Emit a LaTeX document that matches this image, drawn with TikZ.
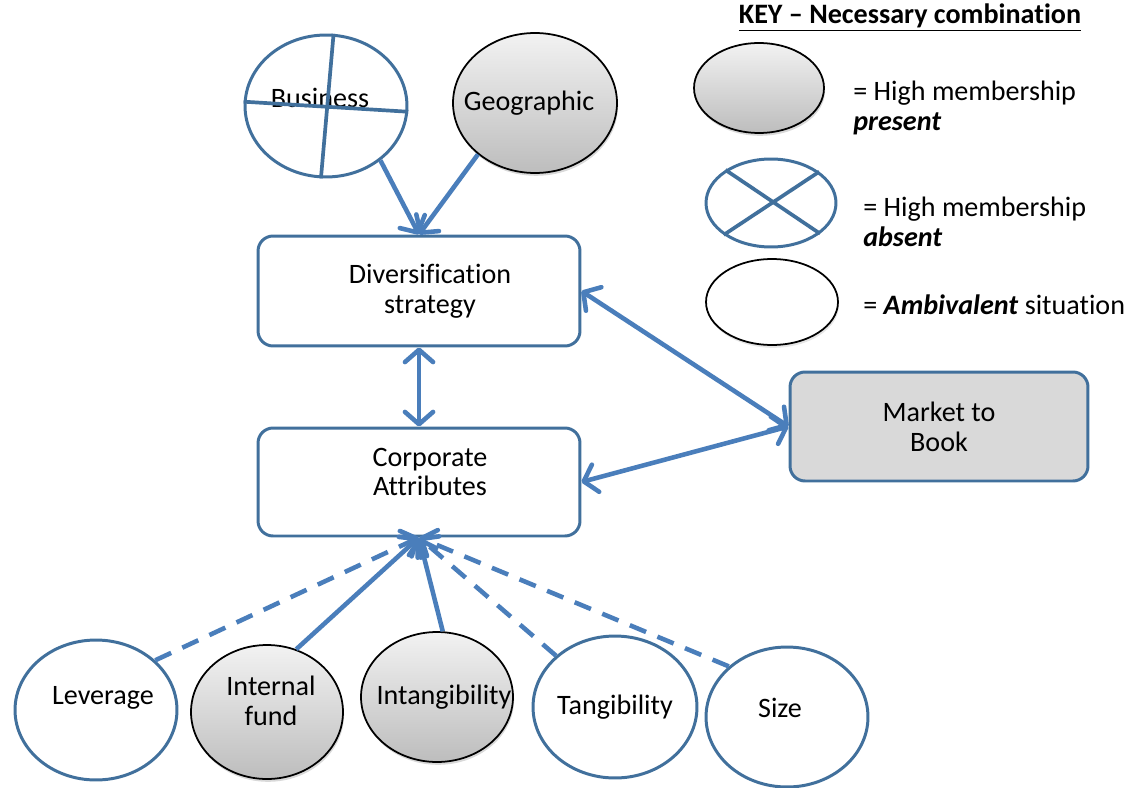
\documentclass[tikz,border=0pt]{standalone}
\usepackage{fontspec}
\setmainfont{Carlito}[Ligatures=CommonOff]
\usetikzlibrary{arrows.meta,shapes.geometric,shadows}

\definecolor{edgeblue}{HTML}{41709C}
\definecolor{arrowblue}{HTML}{4A7EBB}
\definecolor{mtbgray}{HTML}{D9D9D9}
\definecolor{shadetop}{HTML}{F2F2F2}
\definecolor{shadebot}{HTML}{BDBDBD}

\begin{document}
\begin{tikzpicture}[x=0.02cm,y=-0.02cm,
  every node/.style={font=\fontsize{16}{17}\selectfont},
  every label/.style={font=\fontsize{16}{17}\selectfont, align=center, inner sep=0pt},
  box/.style={draw=edgeblue, line width=1.7pt, rounded corners=0.3cm,
    minimum width=6.44cm, minimum height=2.2cm, align=center, fill=white},
  oval/.style={ellipse, inner sep=0pt},
  plainoval/.style={oval, draw=edgeblue, line width=1.7pt, fill=white},
  presentoval/.style={oval, draw=black, line width=1pt,
    top color=shadetop, bottom color=shadebot,
    drop shadow={opacity=0.3, shadow xshift=0.6pt, shadow yshift=-1.6pt}},
  crossline/.style={draw=edgeblue, line width=2.1pt},
  link/.style={draw=arrowblue, line width=2.6pt},
  barb/.tip={Straight Barb[length=7pt,width=16pt,round]},
  tipend/.style={-barb},
  tipboth/.style={barb-barb},
  dashlink/.style={link, dash pattern=on 10pt off 7pt},
  keytext/.style={anchor=west, align=left, inner sep=0pt}
]
\useasboundingbox (0,0) rectangle (1128,787);

% central boxes
\node[box, label={[xshift=0.22cm]center:Diversification\\strategy}] (div) at (419,291) {};
\node[box, minimum height=2.16cm,
      label={[xshift=0.22cm, yshift=0.2cm]center:Corporate\\Attributes}] (corp) at (419,482) {};
\node[box, fill=mtbgray, minimum width=5.96cm, minimum height=2.18cm] (mtb) at (939,426.5) {Market to\\Book};

% diversification types
\node[plainoval, minimum width=3.24cm, minimum height=2.84cm,
      label={[yshift=0.17cm, xshift=-0.12cm]center:Business}] (bus) at (326,106) {};
\draw[crossline] (bus.84) -- (bus.266);
\draw[crossline] (bus.177) -- (bus.356);
\node[presentoval, minimum width=3.28cm, minimum height=2.8cm,
      label={[xshift=-0.12cm]center:Geographic}] (geo) at (535,103) {};

% attribute conditions
\node[plainoval, minimum width=3.24cm, minimum height=2.8cm,
      label={[xshift=0.14cm, yshift=0.24cm]center:Leverage}] (lev) at (96,710) {};
\node[presentoval, minimum width=3.04cm, minimum height=2.68cm,
      label={[xshift=0.08cm, yshift=0.22cm]center:Internal\\fund}] (fund) at (267,712) {};
\node[presentoval, minimum width=3.04cm, minimum height=2.6cm,
      label={[xshift=0.14cm]center:Intangibility}] (intan) at (437,697) {};
\node[plainoval, minimum width=3.28cm, minimum height=2.84cm,
      label={center:Tangibility}] (tan) at (615,707) {};
\node[plainoval, minimum width=3.24cm, minimum height=2.8cm,
      label={[xshift=-0.14cm, yshift=0.18cm]center:Size}] (size) at (787,717) {};

% connectors
\draw[link, tipend] (bus.315) -- (div.north);
\draw[link, tipend] (geo.222) -- (div.north);
\draw[link, tipboth] (div.south) -- (corp.north);
\draw[link, tipboth] (div.east) -- (mtb.west);
\draw[link, tipboth] (mtb.west) -- (corp.east);
\draw[dashlink, tipend] (lev.40) -- (corp.south);
\draw[link, tipend] (fund.65) -- (corp.south);
\draw[link, tipend] (intan.85) -- (corp.south);
\draw[dashlink, tipend] (tan.139) -- (corp.south);
\draw[dashlink, tipend] (size.139) -- (corp.south);

% key
\node (keytitle) at (910,18) {\bfseries\underline{KEY – Necessary combination}};
\node[presentoval, minimum width=2.6cm, minimum height=1.8cm] (kpres) at (759,88) {};
\node[keytext] (tpres) at (853,108) {= High membership\\\textbf{\textit{present}}};
\node[plainoval, minimum width=2.6cm, minimum height=1.76cm] (kabs) at (771,203) {};
\draw[crossline] (kabs.144) -- (kabs.328);
\draw[crossline] (kabs.33) -- (kabs.214);
\node[keytext] (tabs) at (863,222) {= High membership\\\textbf{\textit{absent}}};
\node[oval, draw=black, line width=1pt, fill=white, minimum width=2.64cm, minimum height=1.72cm,
      drop shadow={opacity=0.2, shadow xshift=0.6pt, shadow yshift=-1.6pt}] (kamb) at (772,302) {};
\node[keytext] (tamb) at (863,305) {= \textbf{\textit{Ambivalent}} situation};
\end{tikzpicture}
\end{document}
